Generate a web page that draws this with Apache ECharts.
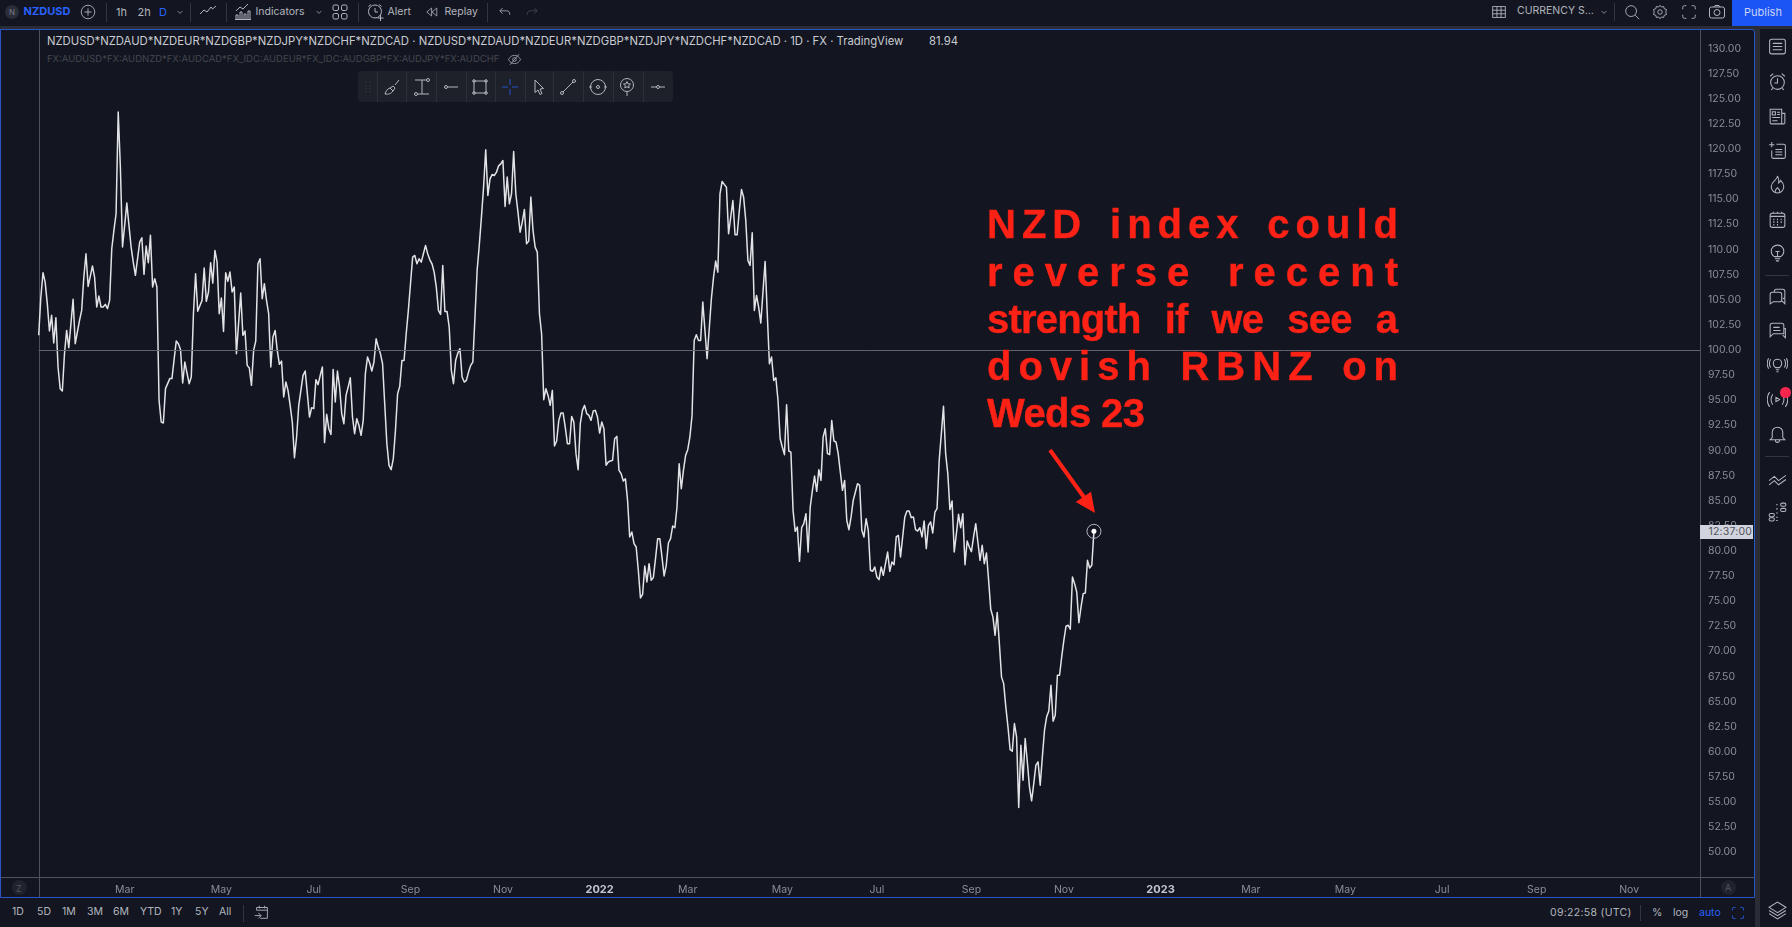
<!DOCTYPE html>
<html>
<head>
<meta charset="utf-8">
<title>NZD index</title>
<script src="https://cdn.jsdelivr.net/npm/echarts@6/dist/echarts.min.js"></script>
<style>
  html, body { margin: 0; padding: 0; background: #2a2d35; overflow: hidden; }
  #page { position: relative; width: 1792px; height: 927px; overflow: hidden; font-family: Inter, "Noto Sans", sans-serif; }
  .box { position: absolute; box-sizing: border-box; }
  .txt { position: absolute; white-space: nowrap; line-height: 1; }
  .icon { position: absolute; fill: none; stroke: #b2b5be; stroke-width: 1; }
  #chart { position: absolute; left: 0; top: 0; width: 1792px; height: 927px; }
  .note { position: absolute; left: 987px; color: #fe2116; font-family: "Liberation Sans", Arial, sans-serif; font-weight: 700; font-size: 40px; line-height: 47px; white-space: normal; text-align: justify; text-align-last: justify; -webkit-text-stroke: 0.4px #fe2116; }
</style>
</head>
<body>
<div id="page">
  <div id="chrome"></div>
  <div id="chart"></div>
  <div id="over"></div>
</div>
<script>
// 指数数值，每个交易日一个，从 2021-01-01 开始
const values = [
  101.45,105.26,107.68,106.75,104.6,101.88,103.44,100.68,103.21,98.3,
  96.14,95.91,99.62,101.94,100.22,102.61,105.03,100.62,101.78,102.94,
  103.93,107.25,109.57,106.32,107.32,108.35,107.25,104.27,105.36,104.27,
  104.27,104.53,104.1,104.93,110.07,111.9,113.55,123.67,118.2,110.24,
  112.39,114.61,112.39,110.24,108.74,107.42,109.08,110.73,111.16,107.52,
  110.34,108.68,111.4,106.26,107.09,106.26,94.98,92.82,92.72,96.14,
  96.64,97.14,97.14,99.03,100.88,100.62,100.02,96.7,98.79,97.7,
  96.64,97.3,103.6,107.58,103.84,104.4,104.93,108.15,104.83,105.76,
  108.68,106.65,109.9,108.74,103.6,105.16,101.84,107.68,106.82,107.75,
  105.76,106.26,99.62,102.61,105.66,101.45,101.88,98.46,98.2,96.47,
  99.95,100.88,108.58,109.08,105.09,106.59,104.93,103.6,98.3,101.28,
  101.94,99.95,98.56,98.89,95.31,96.8,95.97,94.48,92.82,89.27,
  91.33,94.48,95.97,97.47,97.9,95.64,93.32,94.25,94.15,97.04,
  96.54,97.47,98.3,90.77,93.59,92.16,91.59,98.06,94.81,97.89,
  96.3,93.65,92.65,95.47,96.3,97.23,93.32,91.66,93.15,92.49,
  91.49,92.98,97.63,99.29,98.69,97.89,98.79,101.11,100.28,99.62,
  98.62,94.64,90.66,88.51,88.08,89.17,91.99,95.64,96.37,98.95,
  98.95,101.61,103.93,106.58,109.24,109.4,108.57,109.07,108.74,109.57,
  110.4,109.57,108.97,108.57,107.74,106.25,103.93,103.53,108.41,103.83,
  103.83,102.27,97.96,96.63,98.95,99.68,100.12,97.3,96.8,96.96,
  97.79,98.46,98.79,103.27,107.91,110.4,113.22,116.2,119.92,115.37,
  117.03,117.46,117.36,117.69,118.32,118.52,118.85,114.28,117.2,114.54,
  115.54,119.75,115.54,113.71,111.72,112.72,113.98,110.56,110.83,115.21,
  111.89,110.23,109.73,103.6,101.61,95.04,96.13,95.47,94.48,95.97,
  90.43,90.93,92.98,93.71,93.71,92.32,90.66,90.66,93.38,92.82,
  89.67,88.08,92.65,93.98,94.48,93.65,93.48,92.98,93.91,93.98,
  93.32,91.72,92.82,92.16,88.51,88.84,88.94,89.0,91.16,91.39,
  88.01,87.68,86.95,87.18,85.02,81.38,81.87,80.71,80.38,78.06,
  75.31,75.67,78.49,76.9,78.72,77.06,77.33,79.22,81.21,81.21,
  79.39,77.5,78.56,80.78,81.21,82.47,82.3,84.36,88.67,86.18,
  88.01,89.5,90.07,91.33,93.48,100.94,101.51,100.94,100.94,104.76,
  101.94,99.12,102.1,105.09,107.25,108.84,107.74,115.54,116.77,116.47,
  116.2,111.56,113.22,114.87,111.46,111.46,113.88,115.97,115.21,112.88,
  108.9,108.41,111.66,103.93,105.42,104.26,102.67,105.75,108.81,103.6,
  98.62,99.29,96.96,97.23,94.97,91.16,90.33,89.57,94.54,89.93,
  89.83,84.03,81.94,82.37,78.95,82.3,82.7,83.7,79.88,84.36,
  86.02,87.44,85.92,88.08,87.01,91.33,92.16,89.67,89.57,92.98,
  90.93,90.83,89.67,87.84,86.02,87.01,83.03,82.1,83.37,85.02,
  85.85,86.68,86.52,82.04,81.38,83.2,82.04,78.06,77.96,78.39,
  77.4,77.13,78.39,77.56,78.72,79.88,77.96,78.89,78.62,81.38,
  81.54,79.39,81.38,83.37,83.96,83.96,83.3,83.37,82.1,81.97,
  82.3,81.38,82.97,80.22,82.54,82.87,81.77,83.86,84.2,89.0,
  91.66,94.38,89.67,87.68,84.1,84.96,79.88,81.71,83.63,82.3,
  83.7,78.62,80.98,80.38,79.92,81.38,82.7,80.88,79.05,80.55,
  78.72,79.78,77.06,74.15,73.42,71.59,73.85,70.76,67.45,66.78,
  64.46,62.47,60.21,60.05,62.8,61.47,54.45,60.65,57.16,61.31,
  59.0,56.5,55.11,56.83,58.66,58.99,56.67,59.49,62.14,63.47,
  64.06,66.62,63.03,63.63,67.61,67.61,69.44,71.09,72.49,72.59,
  72.19,77.4,76.73,75.9,72.85,74.41,75.74,75.8,79.05,78.29,78.56,81.94
];

// x 轴标签，落在原图标签所在的那根 K 线上
const tickDates = ['2021-02-26','2021-04-30','2021-06-30','2021-09-01','2021-11-01','2022-01-03','2022-03-01','2022-05-02','2022-07-01','2022-09-01','2022-11-01','2023-01-03','2023-03-02','2023-05-03','2023-07-05','2023-09-05','2023-11-03'];
const tickLabels = ['Mar','May','Jul','Sep','Nov','2022','Mar','May','Jul','Sep','Nov','2023','Mar','May','Jul','Sep','Nov'];
const totalBars = 774;

// 只有工作日
const dates = [];
for (let t = Date.UTC(2021, 0, 1); dates.length < totalBars; t += 86400000) {
  const d = new Date(t);
  if (d.getUTCDay() !== 0 && d.getUTCDay() !== 6) dates.push(d.toISOString().slice(0, 10));
}

const chart = echarts.init(document.getElementById('chart'), null, { renderer: 'canvas' });
chart.setOption({
  animation: false,
  backgroundColor: 'transparent',
  grid: { left: 38.7, top: 23.4, width: 1661.3, height: 853.9 },
  xAxis: {
    type: 'category',
    data: dates,
    boundaryGap: false,
    axisLine: { show: false },
    axisTick: { show: false },
    splitLine: { show: false },
    axisLabel: {
      color: '#8a8d96',
      fontFamily: 'Inter',
      fontSize: 10.5,
      margin: 7,
      hideOverlap: false,
      interval: (i, v) => tickDates.includes(v),
      formatter: v => {
        const s = tickLabels[tickDates.indexOf(v)];
        return /^\d/.test(s) ? '{y|' + s + '}' : s;
      },
      rich: { y: { color: '#c5c7cf', fontWeight: 'bold', fontSize: 11, fontFamily: 'Inter' } }
    }
  },
  yAxis: {
    type: 'value',
    position: 'right',
    min: 47.5,
    max: 132.5,
    interval: 2.5,
    axisLine: { show: false },
    axisTick: { show: false },
    splitLine: { show: false },
    axisLabel: {
      color: '#8a8d96',
      fontFamily: 'Inter',
      fontSize: 10.5,
      margin: 8,
      showMinLabel: false,
      showMaxLabel: false,
      formatter: v => v.toFixed(2)
    }
  },
  series: [{
    type: 'line',
    data: values,
    showSymbol: false,
    sampling: 'none',
    silent: true,
    lineStyle: { color: '#e2e3e7', width: 1.5, join: 'round' },
    markLine: {
      silent: true,
      symbol: 'none',
      label: { show: false },
      lineStyle: { color: '#61646e', width: 1, type: 'solid' },
      data: [{ yAxis: 100 }]
    },
    markPoint: {
      silent: true,
      label: { show: false },
      data: [
        { coord: [dates[values.length - 1], values[values.length - 1]], symbol: 'circle', symbolSize: 14, itemStyle: { color: 'transparent', borderColor: '#b2b5be', borderWidth: 1 } },
        { coord: [dates[values.length - 1], values[values.length - 1]], symbol: 'circle', symbolSize: 5, itemStyle: { color: '#ffffff' } }
      ]
    }
  }],
  // 红色箭头
  graphic: [
    { type: 'line', shape: { x1: 1050, y1: 450, x2: 1086, y2: 500 }, style: { stroke: '#fe2116', lineWidth: 4 } },
    { type: 'polygon', shape: { points: [[1095, 513], [1075.7, 502], [1091, 491.7]] }, style: { fill: '#fe2116' } }
  ]
});

// ---------- 页面外壳 ----------
const chrome = document.getElementById('chrome');
const over = document.getElementById('over');
const PANEL = '#131620';

function box(parent, x, y, w, h, css) {
  const el = document.createElement('div');
  el.className = 'box';
  el.style.cssText = `left:${x}px;top:${y}px;width:${w}px;height:${h}px;${css || ''}`;
  parent.appendChild(el);
  return el;
}
// y 是文字中心线
function text(parent, str, x, y, size, color, extra) {
  const el = document.createElement('div');
  el.className = 'txt';
  el.textContent = str;
  el.style.cssText = `left:${x}px;top:${y - size / 2}px;font-size:${size}px;color:${color};${extra || ''}`;
  parent.appendChild(el);
  return el;
}
// cx, cy 是图标中心，图形在 20x20 的格子里
function icon(parent, inner, cx, cy, size, color) {
  size = size || 20;
  const ns = 'http://www.w3.org/2000/svg';
  const svg = document.createElementNS(ns, 'svg');
  svg.setAttribute('class', 'icon');
  svg.setAttribute('viewBox', '0 0 20 20');
  svg.setAttribute('width', size);
  svg.setAttribute('height', size);
  svg.style.left = (cx - size / 2) + 'px';
  svg.style.top = (cy - size / 2) + 'px';
  if (color) svg.style.stroke = color;
  svg.innerHTML = inner;
  parent.appendChild(svg);
}

const ICONS = {
  plus: '<circle cx="10" cy="10" r="7.5"/><path d="M10 6v8M6 10h8"/>',
  chev: '<path d="M6.5 8.5l3.5 3.5 3.5-3.5"/>',
  style: '<path d="M2 13l4-4 3 2 4-5 1.5 2 3.5-3"/>',
  indicators: '<path d="M3 17V13h2v4M7 17V10h2v7M11 17V12h2v5M15 17V9h2v8M2 17.5h16M3 9l4-4 3 2 5-5"/>',
  apps: '<rect x="3" y="3" width="5.5" height="5.5" rx="1.5"/><rect x="11.5" y="3" width="5.5" height="5.5" rx="1.5"/><rect x="3" y="11.5" width="5.5" height="5.5" rx="1.5"/><rect x="11.5" y="11.5" width="5.5" height="5.5" rx="1.5"/>',
  alert: '<circle cx="9" cy="9.5" r="6.5"/><path d="M9 6v4h3M2.5 4.5L5 2.5M13 2.5l2.5 2M14.5 13v6M11.5 16h6"/>',
  replay: '<path d="M9.5 5L3.5 10l6 5zM16 5l-6 5 6 5z"/>',
  undo: '<path d="M7 5L3.5 8.5 7 12M4 8.5h8c3 0 4 2 4 5"/>',
  redo: '<path d="M13 5l3.5 3.5L13 12M16 8.5H8c-3 0-4 2-4 5"/>',
  layout: '<rect x="3" y="4" width="14" height="12"/><path d="M3 8h14M3 12h14M7.7 4v12M12.3 4v12"/>',
  search: '<circle cx="9" cy="9" r="6"/><path d="M13.5 13.5L18 18"/>',
  gear: '<circle cx="10" cy="10" r="2.5"/><path d="M10 2.5l1.6 2 2.5-.6.6 2.5 2.5.8-.8 2.8.8 2.8-2.5.8-.6 2.5-2.5-.6-1.6 2-1.6-2-2.5.6-.6-2.5-2.5-.8.8-2.8-.8-2.8 2.5-.8.6-2.5 2.5.6z"/>',
  full: '<path d="M3 7V5a2 2 0 0 1 2-2h2M13 3h2a2 2 0 0 1 2 2v2M17 13v2a2 2 0 0 1-2 2h-2M7 17H5a2 2 0 0 1-2-2v-2"/>',
  camera: '<rect x="2.5" y="5" width="15" height="11" rx="2"/><circle cx="10" cy="10.5" r="3"/><path d="M7 5l1-1.5h4L13 5"/>',
  list: '<rect x="2.5" y="3" width="15" height="14" rx="2"/><path d="M5.5 7h9M5.5 10h9M5.5 13h9"/>',
  alarm: '<circle cx="10" cy="11" r="6.5"/><path d="M10 7v4.5H7M3 5l3-2.5M14 2.5L17 5M5.5 16.5L4 18M14.5 16.5L16 18"/>',
  news: '<path d="M3 3h11v14H4a1 1 0 0 1-1-1zM14 7h3v9a1 1 0 0 1-1 1h-2"/><rect x="5" y="5.5" width="3" height="3"/><path d="M9.5 6h3M9.5 8h3M5 11h7.5M5 14h5"/>',
  addlist: '<path d="M2 4.5h5M4.5 2v5M9 4h7a1.5 1.5 0 0 1 1.5 1.5V16a1.5 1.5 0 0 1-1.5 1.5H6A1.5 1.5 0 0 1 4.5 16V10M8 9h6.5M8 11.5h6.5M8 14h6.5"/>',
  flame: '<path d="M10 2c0 4-6 5-6 10a6 6 0 0 0 12 0c0-3-2-5-3-6-.5 1.5-1 2-2 2.5C11.5 6 11 4 10 2zM8 17c-.5-2 1-3 2-4 1 1 2.5 2 2 4"/>',
  calendar: '<rect x="3" y="4" width="14" height="13.5" rx="2"/><path d="M3 7h14M6 2.5V4M10 2.5V4M14 2.5V4"/><path d="M6 10h1M9.5 10h1M13 10h1M6 12.5h1M9.5 12.5h1M13 12.5h1M6 15h1M9.5 15h1" stroke-width="1.5"/>',
  bulb: '<path d="M7 13c-1.5-1-3-2.500-3-5a6 6 0 0 1 12 0c0 2.500-1.500 4-3 5zM7.500 15h5M8.500 17h3M10 8v5M8 8h4"/>',
  chats: '<path d="M7 6V5a2 2 0 0 1 2-2h6a2 2 0 0 1 2 2v5a2 2 0 0 1-2 2M3 8a2 2 0 0 1 2-2h7a2 2 0 0 1 2 2v5a2 2 0 0 1-2 2H6l-3 2zM14 14l3 3v-5"/>',
  chat: '<path d="M3 5a2 2 0 0 1 2-2h9a2 2 0 0 1 2 2v8H6l-3 3zM6 7h6M6 10h7M16 8h1.500v9L15 14.500"/>',
  bulbcast: '<path d="M8 12c-1-1-2-2-2-4a4 4 0 0 1 8 0c0 2-1 3-2 4zM8.500 14h3M9 16h2M3.500 4c-1.500 2.500-1.500 5.500 0 8M16.500 4c1.500 2.500 1.500 5.500 0 8M1.500 3c-1.500 3-1.500 7 0 10M18.500 3c1.500 3 1.500 7 0 10"/>',
  playcast: '<path d="M8.500 8v4l3.500-2zM5.500 5c-2 3-2 7 0 10M14.500 5c2 3 2 7 0 10M2.500 3c-3 4-3 10 0 14M17.500 3c3 4 3 10 0 14"/>',
  bell: '<path d="M10 3a5 5 0 0 0-5 5v5l-2 2h14l-2-2V8a5 5 0 0 0-5-5zM8 15.500a2 2 0 0 0 4 0"/>',
  chevrons: '<path d="M2 12l5-4 4 4 7-5M2 16l5-4 4 4 7-5"/>',
  dots: '<rect x="13" y="2" width="5" height="3" rx="1.500"/><rect x="13" y="7" width="5" height="3" rx="1.500"/><rect x="2" y="12" width="5" height="3" rx="1.500"/><rect x="2" y="16" width="5" height="3" rx="1.500"/><path d="M9.500 3v1M9.500 7v1M9.500 11v1M9.500 15v1M9.500 18v1" stroke-width="1.500"/>',
  layers: '<path d="M10 2l8 5-8 5-8-5zM2 10l8 5 8-5M2 13l8 5 8-5"/>',
  calgo: '<path d="M4 8V5h12v12H8M4 8h12M7 3v3M13 3v3M2 14h7M6 11l3 3-3 3"/>',
  eyeoff: '<path d="M2 10c2-4 5-5.500 8-5.500S16 6 18 10c-2 4-5 5.500-8 5.500S4 14 2 10z"/><circle cx="10" cy="10" r="2.500"/><path d="M4 17L16 3"/>',
  brush: '<path d="M3 17c3 .5 6 0 8-3l-3-3c-3 1-4 3-5 6zM11 14l2-3-2-2-3 2M13 8l4-5"/>',
  measure: '<circle cx="16" cy="3" r="1.500"/><circle cx="4" cy="17" r="1.500"/><path d="M3 3h11.500M10 3v14M5.500 17H17"/>',
  dash: '<circle cx="5" cy="10" r="1.500"/><path d="M6.500 10H17"/>',
  rect: '<rect x="4" y="4" width="12" height="12"/><circle cx="4" cy="4" r="1.300"/><circle cx="16" cy="4" r="1.300"/><circle cx="4" cy="16" r="1.300"/><circle cx="16" cy="16" r="1.300"/>',
  cross: '<path d="M10 2v6M10 12v6M2 10h6M12 10h6"/>',
  cursor: '<path d="M6 3l8.500 8.500-3.500.5 2 4.500-2 1-2-4.500-3 2.500z"/>',
  diag: '<circle cx="16" cy="4" r="1.500"/><circle cx="4" cy="16" r="1.500"/><path d="M5 15L15 5"/>',
  circ: '<circle cx="10" cy="10" r="7.500"/><circle cx="10" cy="10" r="1.500"/><circle cx="2.500" cy="10" r=".8"/><circle cx="17.500" cy="10" r=".8"/>',
  pin: '<circle cx="10" cy="8" r="6.500"/><path d="M10 4.500l1 2.300 2.500.2-1.900 1.600.6 2.400-2.200-1.300-2.200 1.300.6-2.400L6.500 7l2.500-.2zM10 14.500V19"/>',
  hline: '<circle cx="10" cy="10" r="1.500"/><path d="M3 10h5.500M11.500 10H17"/>'
};

// 顶部栏、底部栏、右侧栏
box(chrome, 0, 0, 1792, 26, `background:${PANEL}`);
box(chrome, 0, 897.5, 1755, 30, `background:${PANEL}`);
box(chrome, 0, 29, 1755, 869, `background:${PANEL};border:1px solid #2a55c8;border-right-width:1.5px;border-radius:0 3px 0 0`);
box(chrome, 1760, 29, 32, 898, `background:${PANEL}`);
box(chrome, 1732, 0, 60, 26, 'background:#1c55f5');
text(chrome, 'Publish', 1744, 12.5, 11, '#c9d3f5');

// 坐标轴框线
box(chrome, 39, 30, 1, 867, 'background:#4e515b');
box(chrome, 1700, 30, 1, 867, 'background:#4e515b');
box(chrome, 1, 877, 1753, 1, 'background:#4e515b');
box(chrome, 12, 880, 15, 15, 'background:#20232d;border-radius:50%');
text(chrome, 'Z', 16, 888, 9, '#55585f');
box(chrome, 1721, 880, 15, 15, 'background:#20232d;border-radius:50%');
text(chrome, 'A', 1725, 887.5, 9, '#55585f');

// 顶部工具
box(chrome, 5, 5, 14, 14, 'background:#2a2e39;border-radius:50%');
text(chrome, 'N', 9, 12, 8, '#787b86');
text(chrome, 'NZDUSD', 23.5, 11.5, 11, '#2962ff', 'font-weight:700');
icon(chrome, ICONS.plus, 88, 12, 18);
text(chrome, '1h', 116, 12, 11, '#b2b5be');
text(chrome, '2h', 137.5, 12, 11, '#b2b5be');
text(chrome, 'D', 159, 12, 11, '#2962ff');
icon(chrome, ICONS.chev, 180, 12, 14);
icon(chrome, ICONS.style, 208, 11, 20);
icon(chrome, ICONS.indicators, 243, 12, 20);
text(chrome, 'Indicators', 255.5, 12, 10.5, '#b2b5be');
icon(chrome, ICONS.chev, 319, 12, 14);
icon(chrome, ICONS.apps, 340, 12, 20);
icon(chrome, ICONS.alert, 376, 12, 20);
text(chrome, 'Alert', 387.5, 12, 10.5, '#b2b5be');
icon(chrome, ICONS.replay, 432, 12, 16);
text(chrome, 'Replay', 444.5, 12, 10.5, '#b2b5be');
icon(chrome, ICONS.undo, 505, 12, 16);
icon(chrome, ICONS.redo, 532, 12, 16, '#4a4d57');
[106, 190, 226, 358, 487].forEach(x => box(chrome, x, 3, 1, 19, 'background:#33363f'));

icon(chrome, ICONS.layout, 1499, 12, 18);
text(chrome, 'CURRENCY S...', 1517, 11.5, 10.5, '#b2b5be');
icon(chrome, ICONS.chev, 1604, 12, 14);
box(chrome, 1614, 3, 1, 18, 'background:#33363f');
icon(chrome, ICONS.search, 1632, 12, 18);
icon(chrome, ICONS.gear, 1660, 12, 18);
icon(chrome, ICONS.full, 1689, 12, 18);
icon(chrome, ICONS.camera, 1717, 12, 20);

// 右侧图标
[['list',46],['alarm',81],['news',116],['addlist',150],['flame',184],['calendar',219],['bulb',253],['chats',296],['chat',330],['bulbcast',365],['playcast',399],['bell',434],['chevrons',478],['dots',511],['layers',910]].forEach(a => {
  icon(chrome, ICONS[a[0]], 1777, a[1], 21);
});
box(chrome, 1765, 275, 24, 1, 'background:#33363f');
box(chrome, 1765, 456, 24, 1, 'background:#33363f');
box(chrome, 1780, 387, 10.5, 10.5, 'background:#f7264f;border-radius:50%');

// 底部周期
[['1D',12],['5D',37],['1M',62],['3M',87],['6M',113],['YTD',140],['1Y',171],['5Y',195],['All',219]].forEach(a => {
  text(chrome, a[0], a[1], 912.5, 10.5, '#b2b5be');
});
box(chrome, 243, 905, 1, 17, 'background:#33363f');
icon(chrome, ICONS.calgo, 262, 912, 18);
text(chrome, '09:22:58 (UTC)', 1550, 913, 10.5, '#b2b5be', 'letter-spacing:.3px');
box(chrome, 1640, 905, 1, 16, 'background:#33363f');
text(chrome, '%', 1652, 913, 10.5, '#b2b5be');
text(chrome, 'log', 1673, 913, 10.5, '#b2b5be');
text(chrome, 'auto', 1699, 913, 10.5, '#2962ff');
icon(chrome, ICONS.full, 1738, 913, 16, '#2962ff');

// 标题
text(chrome, 'NZDUSD*NZDAUD*NZDEUR*NZDGBP*NZDJPY*NZDCHF*NZDCAD · NZDUSD*NZDAUD*NZDEUR*NZDGBP*NZDJPY*NZDCHF*NZDCAD · 1D · FX · TradingView', 47, 41.5, 11.3, '#c9cbd2');
text(chrome, '81.94', 929, 41.5, 11.3, '#c9cbd2');
text(chrome, 'FX:AUDUSD*FX:AUDNZD*FX:AUDCAD*FX_IDC:AUDEUR*FX_IDC:AUDGBP*FX:AUDJPY*FX:AUDCHF', 47, 59, 9.5, '#43464f');
icon(chrome, ICONS.eyeoff, 514, 59, 15);

// 浮动绘图工具栏
box(chrome, 358, 71, 315, 31, 'background:#1e212a;border-radius:4px');
icon(chrome, '<path d="M7 4h1M12 4h1M7 8h1M12 8h1M7 12h1M12 12h1M7 16h1M12 16h1" stroke="#50535c"/>', 368, 87, 16);
[377, 406, 436, 466, 495, 525, 553, 583, 613, 643].forEach(x => box(chrome, x, 71, 1, 31, 'background:#2c2f38'));
[['brush',392],['measure',422],['dash',451],['rect',480],['cursor',539],['diag',568],['circ',598],['pin',627],['hline',658]].forEach(a => {
  icon(chrome, ICONS[a[0]], a[1], 87, 20);
});
icon(chrome, ICONS.cross, 510, 87, 20, '#2452c8');

// 价格标签盖在 82.50 上面
box(over, 1700, 525, 53, 13.5, 'background:#d1d4dc');
text(over, '12:37:00', 1708.5, 532, 10.5, '#50535b', 'letter-spacing:.2px');

// 红色注释，两端对齐的字距照原图，末字后的字距算进宽度
[['NZD index could', 6, 201], ['reverse recent', 10, 249.3], ['strength if we see a', -0.8, 296], ['dovish RBNZ on', 7, 343.3]].forEach(a => {
  const el = document.createElement('div');
  el.className = 'note';
  el.textContent = a[0];
  el.style.letterSpacing = a[1] + 'px';
  el.style.width = (411 + a[1]) + 'px';
  el.style.top = a[2] + 'px';
  over.appendChild(el);
});
const lastLine = document.createElement('div');
lastLine.className = 'note';
lastLine.textContent = 'Weds 23';
lastLine.style.cssText = 'top:390px;text-align:left;text-align-last:left;letter-spacing:-0.6px';
over.appendChild(lastLine);
</script>
</body>
</html>
